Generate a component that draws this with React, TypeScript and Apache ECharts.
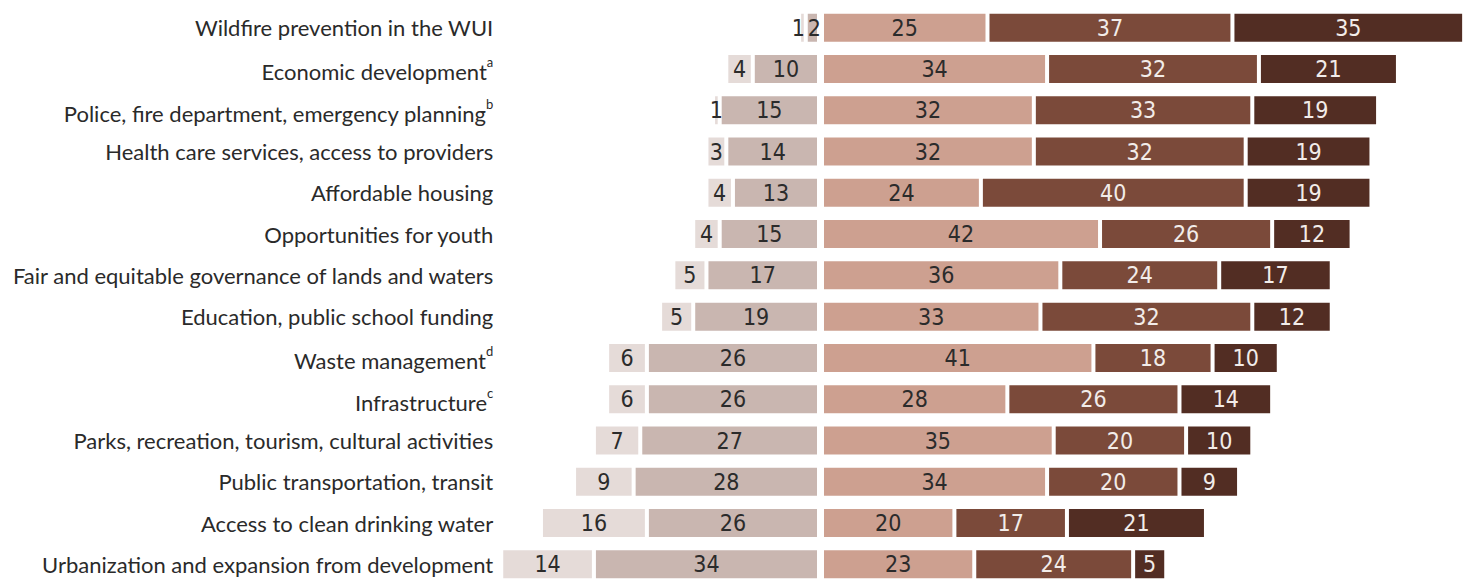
import React, { useEffect, useRef } from "react";
import * as echarts from "echarts";

const categories = [
  "Wildfire prevention in the WUI",
  "Economic development",
  "Police, fire department, emergency planning",
  "Health care services, access to providers",
  "Affordable housing",
  "Opportunities for youth",
  "Fair and equitable governance of lands and waters",
  "Education, public school funding",
  "Waste management",
  "Infrastructure",
  "Parks, recreation, tourism, cultural activities",
  "Public transportation, transit",
  "Access to clean drinking water",
  "Urbanization and expansion from development",
];
const superscripts: Record<string, string> = {
  "Economic development": "a",
  "Police, fire department, emergency planning": "b",
  "Infrastructure": "c",
  "Waste management": "d",
};

const outerNeg = [1, 4, 1, 3, 4, 4, 5, 5, 6, 6, 7, 9, 16, 14];
const innerNeg = [2, 10, 15, 14, 13, 15, 17, 19, 26, 26, 27, 28, 26, 34];
const posLight = [25, 34, 32, 32, 24, 42, 36, 33, 41, 28, 35, 34, 20, 23];
const posMid = [37, 32, 33, 32, 40, 26, 24, 32, 18, 26, 20, 20, 17, 24];
const posDark = [35, 21, 19, 19, 19, 12, 17, 12, 10, 14, 10, 9, 21, 5];

const NUM_FONT = "'Liberation Sans Narrow', 'DejaVu Sans Condensed', 'Arial Narrow', sans-serif";
const LABEL_FONT = "Lato, 'Open Sans', sans-serif";

export default function App() {
  const ref = useRef<HTMLDivElement>(null);
  useEffect(() => {
    if (!ref.current) return;
    const chart = echarts.init(ref.current, undefined, { renderer: "svg" });
    const unit = 6.62;
    const negRight = 819;
    const posLeft = 822;
    const mkLabel = (color: string) => ({
      show: true,
      position: "inside",
      color,
      fontFamily: NUM_FONT,
      fontSize: 23,
      formatter: (p: any) => String(Math.abs(p.value)),
    });
    const barBase = {
      type: "bar",
      barWidth: 32,
      itemStyle: { borderColor: "#ffffff", borderWidth: 2 },
    };
    chart.setOption({
      animation: false,
      grid: [
        { left: negRight - 48 * unit, width: 48 * unit, top: 7, height: 586 },
        { left: posLeft, width: 97 * unit, top: 7, height: 586 },
      ],
      xAxis: [
        { gridIndex: 0, type: "value", min: -48, max: 0, show: false },
        { gridIndex: 1, type: "value", min: 0, max: 97, show: false },
      ],
      yAxis: [
        {
          gridIndex: 0,
          type: "category",
          data: categories,
          inverse: true,
          axisLine: { show: false },
          axisTick: { show: false },
          splitLine: { show: false },
          axisLabel: {
            margin: 8,
            fontFamily: LABEL_FONT,
            fontSize: 22,
            color: "#2a2a2a",
            formatter: (v: string) =>
              superscripts[v] ? `{ms|${v}}{s|${superscripts[v]}}` : `{m|${v}}`,
            rich: {
              m: { fontFamily: LABEL_FONT, fontSize: 22, color: "#2a2a2a", lineHeight: 26 },
              ms: { fontFamily: LABEL_FONT, fontSize: 22, color: "#2a2a2a", lineHeight: 26, padding: [6, 0, 0, 0] },
              s: { fontFamily: LABEL_FONT, fontSize: 13, color: "#2a2a2a", verticalAlign: "top", lineHeight: 14 },
            },
          },
        },
        {
          gridIndex: 1,
          type: "category",
          data: categories,
          inverse: true,
          show: false,
        },
      ],
      series: [
        {
          ...barBase,
          name: "inner",
          xAxisIndex: 0,
          yAxisIndex: 0,
          stack: "neg",
          data: innerNeg.map((v, i) =>
            i === 0 ? { value: -v, label: { offset: [2, 0] } } : -v
          ),
          itemStyle: { ...barBase.itemStyle, color: "#c9b6b0" },
          label: mkLabel("#2b2b2b"),
        },
        {
          ...barBase,
          name: "outer",
          xAxisIndex: 0,
          yAxisIndex: 0,
          stack: "neg",
          data: outerNeg.map((v, i) =>
            i === 0 ? { value: -v, label: { offset: [-4, 0] } } : -v
          ),
          itemStyle: { ...barBase.itemStyle, color: "#e5dbd8" },
          label: mkLabel("#2b2b2b"),
        },
        {
          ...barBase,
          name: "light",
          xAxisIndex: 1,
          yAxisIndex: 1,
          stack: "pos",
          data: posLight,
          itemStyle: { ...barBase.itemStyle, color: "#cda090" },
          label: mkLabel("#2b2b2b"),
        },
        {
          ...barBase,
          name: "mid",
          xAxisIndex: 1,
          yAxisIndex: 1,
          stack: "pos",
          data: posMid,
          itemStyle: { ...barBase.itemStyle, color: "#7b4a3a" },
          label: mkLabel("#f2ece9"),
        },
        {
          ...barBase,
          name: "dark",
          xAxisIndex: 1,
          yAxisIndex: 1,
          stack: "pos",
          data: posDark,
          itemStyle: { ...barBase.itemStyle, color: "#522d23" },
          label: mkLabel("#f2ece9"),
        },
      ],
    });
    return () => chart.dispose();
  }, []);
  return (
    <div
      ref={ref}
      style={{ position: "absolute", left: 0, top: 0, width: 1467, height: 585 }}
    />
  );
}
